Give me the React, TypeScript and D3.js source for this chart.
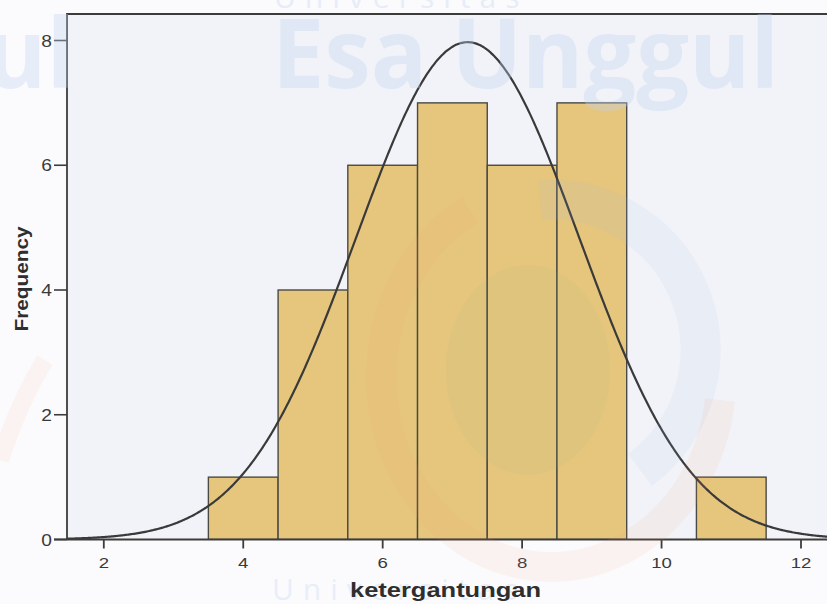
import React from "react";
import * as d3 from "d3";

// ---- data ----
const binCenters = [4, 5, 6, 7, 8, 9, 11];
const frequencies = [1, 4, 6, 7, 6, 7, 1];
const binWidth = 1;
const xTicks = [2, 4, 6, 8, 10, 12];
const yTicks = [0, 2, 4, 6, 8];
const xLabel = "ketergantungan";
const yLabel = "Frequency";

const W = 827;
const H = 604;

export default function App() {
  const x = d3.scaleLinear().domain([2, 12]).range([103.8, 801]);
  const y = d3.scaleLinear().domain([0, 8]).range([539.5, 40.5]);

  const xMin = x.invert(67);
  const xMax = 12.6;
  const yTop = 14;

  // normal curve from the binned data
  const N = d3.sum(frequencies);
  const mean = d3.sum(binCenters.map((c, i) => c * frequencies[i])) / N;
  const variance =
    d3.sum(binCenters.map((c, i) => frequencies[i] * (c - mean) ** 2)) / (N - 1);
  const sd = Math.sqrt(variance);
  const pts = d3.range(xMin, xMax, 0.02).map((v) => [
    v,
    ((N * binWidth) / (sd * Math.sqrt(2 * Math.PI))) *
      Math.exp(-((v - mean) ** 2) / (2 * sd * sd)),
  ]);
  const line = d3
    .line<number[]>()
    .x((d) => x(d[0]))
    .y((d) => y(d[1]))
    .curve(d3.curveBasis);

  const font = "'Liberation Sans', Arial, sans-serif";
  const wmFont = "'Open Sans', 'DejaVu Sans', sans-serif";

  return (
    <svg
      width={W}
      height={H}
      style={{ position: "absolute", left: 0, top: 0, background: "#fbfbfd" }}
    >
      <defs>
        <clipPath id="plotClip">
          <rect x={x(xMin)} y={yTop} width={W} height={y(0) - yTop} />
        </clipPath>
      </defs>
      {/* plot background */}
      <rect x={x(xMin)} y={yTop} width={W - x(xMin)} height={y(0) - yTop} fill="#f2f3f8" />

      {/* bars */}
      <g clipPath="url(#plotClip)">
        {binCenters.map((c, i) => (
          <rect
            key={i}
            x={x(c - binWidth / 2)}
            y={y(frequencies[i])}
            width={x(c + binWidth / 2) - x(c - binWidth / 2)}
            height={y(0) - y(frequencies[i])}
            fill="#e6c67c"
            stroke="#4a4a45"
            strokeWidth={1.4}
          />
        ))}
        <path d={line(pts) || ""} fill="none" stroke="#3a3a3a" strokeWidth={2.2} />
      </g>

      {/* frame */}
      <path
        d={`M${x(xMin)},${y(0)} V${yTop} H${W + 5}`}
        fill="none"
        stroke="#3c3c3c"
        strokeWidth={1.8}
      />
      <line x1={x(xMin) - 13} x2={W + 5} y1={y(0)} y2={y(0)} stroke="#3c3c3c" strokeWidth={1.8} />

      {/* y axis ticks */}
      {yTicks.map((t) => (
        <g key={t}>
          <line x1={x(xMin) - 13} x2={x(xMin)} y1={y(t)} y2={y(t)} stroke="#3c3c3c" strokeWidth={1.6} />
          <text
            transform={`translate(${x(xMin) - 15}, ${y(t) + 6}) scale(1.2, 1)`}
            textAnchor="end"
            fontFamily={font}
            fontSize={16}
            fill="#3a3a3a"
          >
            {t}
          </text>
        </g>
      ))}

      {/* x axis ticks */}
      {xTicks.map((t) => (
        <g key={t}>
          <line x1={x(t)} x2={x(t)} y1={y(0)} y2={y(0) + 9} stroke="#3c3c3c" strokeWidth={1.8} />
          <text
            transform={`translate(${x(t)}, 567.5) scale(1.2, 1)`}
            textAnchor="middle"
            fontFamily={font}
            fontSize={15.5}
            fill="#3a3a3a"
          >
            {t}
          </text>
        </g>
      ))}

      {/* watermark */}
      <g pointerEvents="none">
        <text
          x={272}
          y={88}
          fontFamily={wmFont}
          fontWeight="bold"
          fontSize={96}
          textLength={507}
          lengthAdjust="spacingAndGlyphs"
          fill="#c2d4f2"
          opacity={0.35}
        >
          Esa Unggul
        </text>
        <text
          x={272 - 704}
          y={88}
          fontFamily={wmFont}
          fontWeight="bold"
          fontSize={96}
          textLength={507}
          lengthAdjust="spacingAndGlyphs"
          fill="#c2d4f2"
          opacity={0.35}
        >
          Esa Unggul
        </text>
        <text
          x={274}
          y={8}
          fontFamily={wmFont}
          fontSize={30}
          letterSpacing={9}
          fill="#d3e0f5"
          opacity={0.5}
        >
          Universitas
        </text>
        <text
          x={272}
          y={600}
          fontFamily={wmFont}
          fontSize={30}
          letterSpacing={9}
          fill="#d3e0f5"
          opacity={0.45}
        >
          Universitas
        </text>
        <path
          d="M 540 200 A 150 150 0 0 1 640 470"
          fill="none"
          stroke="#9ab8ec"
          strokeWidth={40}
          opacity={0.1}
        />
        <ellipse cx={528} cy={370} rx={82} ry={105} fill="#8fae95" opacity={0.08} />
        <path
          d="M 470 210 A 170 190 0 1 0 720 400"
          fill="none"
          stroke="#f4a070"
          strokeWidth={30}
          opacity={0.09}
        />
        <path
          d="M 0 460 Q 20 400 45 360"
          fill="none"
          stroke="#f6b08a"
          strokeWidth={18}
          opacity={0.1}
        />
      </g>

      {/* axis titles */}
      <text
        x={445.5}
        y={596.5}
        textAnchor="middle"
        fontFamily={font}
        fontWeight="bold"
        fontSize={21}
        textLength={191}
        lengthAdjust="spacingAndGlyphs"
        fill="#2e2e2e"
      >
        {xLabel}
      </text>
      <text
        transform={`translate(27.5, 279) rotate(-90)`}
        textAnchor="middle"
        fontFamily={font}
        fontWeight="bold"
        fontSize={19}
        textLength={105}
        lengthAdjust="spacingAndGlyphs"
        fill="#2e2e2e"
      >
        {yLabel}
      </text>
    </svg>
  );
}
